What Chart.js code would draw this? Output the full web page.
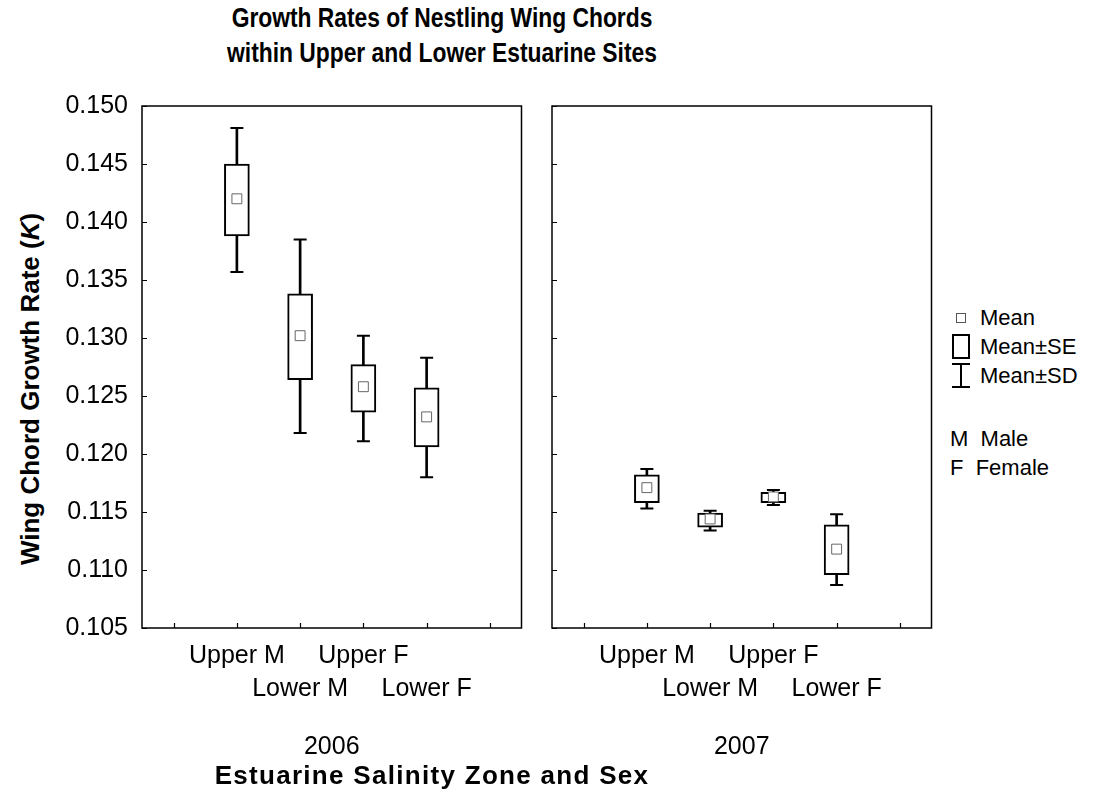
<!DOCTYPE html>
<html>
<head>
<meta charset="utf-8">
<script src="https://cdn.jsdelivr.net/npm/chart.js@4/dist/chart.umd.min.js"></script>
<style>
  body { margin: 0; background: #fff; }
  #wrap { position: relative; width: 1093px; height: 798px; background: #fff; font-family: "Liberation Sans", Arial, sans-serif; color: #000; }
  canvas { position: absolute; top: 0; }
  #title { position: absolute; left: 0; top: 0; width: 884px; text-align: center; font-family: "Liberation Sans Narrow", "Arial Narrow", "Liberation Sans", Arial, sans-serif; font-weight: bold; font-size: 28px; line-height: 35px; transform: scaleX(0.815); }
  #ytitle { position: absolute; left: 30px; top: 389px; transform: translate(-50%, -50%) rotate(-90deg); white-space: nowrap; font-weight: bold; font-size: 26px; }
  #xtitle { position: absolute; left: 432px; top: 775px; transform: translate(-50%, -50%); white-space: nowrap; font-weight: bold; font-size: 26px; letter-spacing: 1.3px; }
  #legend { position: absolute; left: 950px; top: 303px; font-size: 22px; line-height: 29px; }
  #legend div { position: relative; padding-left: 30px; height: 29px; }
  .sym-mean { position: absolute; left: 6px; top: 10px; width: 8px; height: 8px; border: 1px solid #555; }
  .sym-se { position: absolute; left: 2px; top: 2px; width: 14px; height: 21px; border: 2px solid #000; }
  .sym-sd { position: absolute; left: 2px; top: 2px; width: 18px; height: 25px; }
  .sym-sd:before { content: ""; position: absolute; left: 8px; top: 0; width: 2px; height: 25px; background: #000; }
  .sym-sd:after { content: ""; position: absolute; left: 0; top: 0; width: 18px; height: 25px; border-top: 2px solid #000; border-bottom: 2px solid #000; box-sizing: border-box; }
</style>
</head>
<body>
<div id="wrap">
  <div id="title">Growth Rates of Nestling Wing Chords<br>within Upper and Lower Estuarine Sites</div>
  <div id="ytitle">Wing Chord Growth Rate (<i>K</i>)</div>
  <canvas id="c2006" width="530" height="765" style="left:0px"></canvas>
  <canvas id="c2007" width="400" height="765" style="left:540px"></canvas>
  <div id="legend">
    <div><span class="sym-mean"></span>Mean</div>
    <div><span class="sym-se"></span>Mean±SE</div>
    <div><span class="sym-sd"></span>Mean±SD</div>
    <div style="height:34px"></div>
    <div style="padding-left:0">M&nbsp; Male</div>
    <div style="padding-left:0">F&nbsp; Female</div>
  </div>
  <div id="xtitle">Estuarine Salinity Zone and Sex</div>
</div>
<script>
// groups along each panel (blank slots at both ends)
const groups = ['Upper M', 'Lower M', 'Upper F', 'Lower F'];
const xLabels = ['', ...groups, ''];

// y axis
const yMin = 0.105;
const yMax = 0.150;
const yStep = 0.005;

// 2006
const mean2006 = [0.1420, 0.1302, 0.1258, 0.1232];
const seLow2006 = [0.1388, 0.1264, 0.1236, 0.1206];
const seHigh2006 = [0.1450, 0.1338, 0.1277, 0.1257];
const sdLow2006 = [0.1357, 0.1218, 0.1211, 0.1180];
const sdHigh2006 = [0.1481, 0.1385, 0.1302, 0.1283];

// 2007
const mean2007 = [0.1171, 0.1144, 0.1163, 0.1118];
const seLow2007 = [0.1158, 0.1137, 0.1158, 0.1096];
const seHigh2007 = [0.1182, 0.1149, 0.1167, 0.1139];
const sdLow2007 = [0.1153, 0.1134, 0.1156, 0.1087];
const sdHigh2007 = [0.1187, 0.1151, 0.1169, 0.1148];

const FONT = '"Liberation Sans", Arial, sans-serif';

// pad series with blanks for the empty end slots
function pad(arr) { return [null, ...arr, null]; }
function ranges(lo, hi) { return [null, ...lo.map((v, i) => [v, hi[i]]), null]; }

// frame round the plot and short inward tick marks
const framePlugin = {
    id: 'frame',
    afterDraw(chart) {
        const { ctx, chartArea: a, scales } = chart;
        ctx.save();
        ctx.strokeStyle = '#000';
        ctx.lineWidth = 1.5;
        ctx.strokeRect(a.left, a.top, a.right - a.left, a.bottom - a.top);
        ctx.lineWidth = 1.2;
        ctx.beginPath();
        scales.y.ticks.forEach((t, i) => {
            const y = Math.round(scales.y.getPixelForTick(i)) + 0.5;
            ctx.moveTo(a.left, y);
            ctx.lineTo(a.left + 5, y);
        });
        scales.x.ticks.forEach((t, i) => {
            const x = Math.round(scales.x.getPixelForTick(i)) + 0.5;
            ctx.moveTo(x, a.bottom);
            ctx.lineTo(x, a.bottom - 5);
        });
        ctx.stroke();
        ctx.restore();
    }
};

function makePanel(id, year, mean, seLow, seHigh, sdLow, sdHigh, yWidth, showYLabels) {
    new Chart(document.getElementById(id), {
        type: 'bar',
        data: {
            labels: xLabels,
            datasets: [
                {   // whisker stem (Mean±SD)
                    type: 'bar', data: ranges(sdLow, sdHigh), grouped: false,
                    backgroundColor: '#000', barThickness: 2, borderWidth: 0, order: 4
                },
                {   // Mean±SE box
                    type: 'bar', data: ranges(seLow, seHigh), grouped: false,
                    backgroundColor: '#fff', borderColor: '#000', borderWidth: 2,
                    borderSkipped: false, barThickness: 25, order: 3
                },
                {   // lower whisker cap
                    type: 'line', data: pad(sdLow), showLine: false,
                    pointStyle: 'line', pointRadius: 6.5, borderColor: '#000', borderWidth: 2, order: 2
                },
                {   // upper whisker cap
                    type: 'line', data: pad(sdHigh), showLine: false,
                    pointStyle: 'line', pointRadius: 6.5, borderColor: '#000', borderWidth: 2, order: 2
                },
                {   // mean
                    type: 'line', data: pad(mean), showLine: false,
                    pointStyle: 'rect', pointRadius: 7, pointBackgroundColor: '#fff',
                    pointBorderColor: '#666', pointBorderWidth: 1, order: 1
                }
            ]
        },
        options: {
            responsive: false,
            animation: false,
            devicePixelRatio: 1,
            layout: { padding: { top: 106, right: 8, left: 0, bottom: 0 } },
            plugins: { legend: { display: false }, tooltip: { enabled: false } },
            scales: {
                x: {
                    offset: true,
                    grid: { display: false, drawTicks: false },
                    border: { display: false },
                    ticks: {
                        autoSkip: false, maxRotation: 0, padding: 12, color: '#000',
                        font: { family: FONT, size: 25, lineHeight: 1.32 },
                        callback: (v, i) => {
                            const lab = xLabels[i];
                            if (!lab) return '';
                            return i % 2 === 1 ? [lab, ''] : ['', lab];
                        }
                    },
                    title: {
                        display: true, text: year, color: '#000',
                        font: { family: FONT, size: 25 }, padding: { top: 0, bottom: 3 }
                    },
                    afterFit: s => { s.height = 765 - 628; }
                },
                y: {
                    min: yMin, max: yMax,
                    grid: { display: false, drawTicks: false },
                    border: { display: false },
                    ticks: {
                        stepSize: yStep, padding: 14, color: '#000',
                        font: { family: FONT, size: 25 },
                        callback: v => showYLabels ? v.toFixed(3) : ''
                    },
                    afterFit: s => { s.width = yWidth; }
                }
            }
        },
        plugins: [framePlugin]
    });
}

makePanel('c2006', '2006', mean2006, seLow2006, seHigh2006, sdLow2006, sdHigh2006, 142, true);
makePanel('c2007', '2007', mean2007, seLow2007, seHigh2007, sdLow2007, sdHigh2007, 12, false);
</script>
</body>
</html>
